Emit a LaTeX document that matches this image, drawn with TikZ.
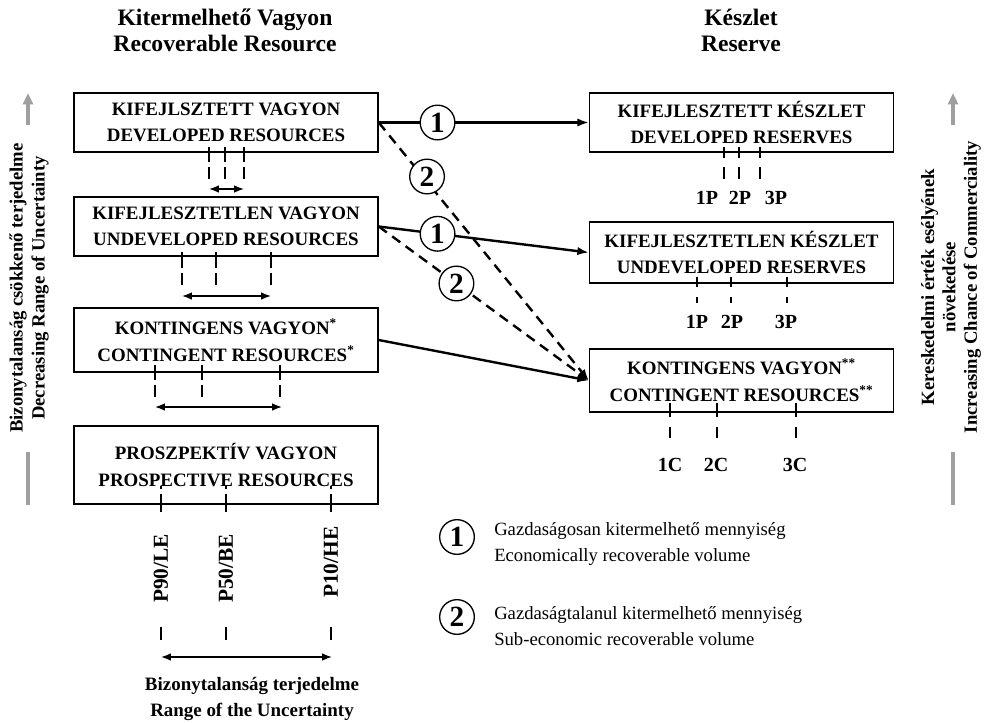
\documentclass[tikz,border=0pt]{standalone}
\usepackage{fontspec}
\setmainfont{Liberation Serif}
\usetikzlibrary{arrows.meta}

\begin{document}
\begin{tikzpicture}[x=0.75pt, y=-0.75pt, every node/.style={font=\bfseries}, >={Latex[length=3mm,width=2.2mm]},
	resbox/.style={draw, line width=1.1pt, minimum width=228pt, align=center, font=\fontsize{14.2}{20}\selectfont\bfseries},
	tickmark/.style={line width=2.2pt},
	spanarrow/.style={<->, line width=1.1pt, >={Latex[length=2.6mm,width=2mm]}},
	flow/.style={->, line width=1.8pt},
	subflow/.style={->, line width=1.8pt, dash pattern=on 7.5pt off 5pt},
	num/.style={circle, draw, solid, fill=white, line width=1pt, minimum size=26pt, inner sep=0pt, font=\fontsize{22}{22}\selectfont\bfseries},
	lbl/.style={font=\fontsize{15}{15}\selectfont\bfseries, inner sep=0pt},
	sideaxis/.style={line width=2.4pt, gray!75}]
	\useasboundingbox (0,0) rectangle (986,722);
	% headers
	\node[align=center, font=\fontsize{17.7}{19.5}\selectfont\bfseries] (hres) at (225,30) {Kitermelhető Vagyon\\Recoverable Resource};
	\node[align=center, font=\fontsize{17.7}{19.5}\selectfont\bfseries] (hrsv) at (741,30) {Készlet\\Reserve};
	% resources
	\node[resbox, minimum height=44.25pt] (dres) at (226,122.5) {KIFEJLSZTETT VAGYON\\DEVELOPED RESOURCES};
	\node[resbox, minimum height=44.25pt] (ures) at (226,226.5) {KIFEJLESZTETLEN VAGYON\\UNDEVELOPED RESOURCES};
	\node[resbox, minimum height=48pt] (cres) at (226,340) {KONTINGENS VAGYON\textsuperscript{*}\\CONTINGENT RESOURCES\textsuperscript{*}};
	\node[resbox, minimum height=58.5pt] (pres) at (226,465) {PROSZPEKTÍV VAGYON\\PROSPECTIVE RESOURCES};
	% reserves
	\node[resbox, minimum height=44.25pt] (drsv) at (741.5,122.5) {KIFEJLESZTETT KÉSZLET\\DEVELOPED RESERVES};
	\node[resbox, minimum height=45.75pt] (ursv) at (741.5,252.5) {KIFEJLESZTETLEN KÉSZLET\\UNDEVELOPED RESERVES};
	\node[resbox, minimum height=47.25pt] (crsv) at (741.5,380.5) {KONTINGENS VAGYON\textsuperscript{**}\\CONTINGENT RESOURCES\textsuperscript{**}};
	% ticks and ranges
	\foreach \x in {209,225,244} {\draw[tickmark] (\x,147) -- (\x,162) (\x,167) -- (\x,179);}
	\draw[spanarrow] (209,189) -- (244,189);
	\foreach \x in {182,216,271} {\draw[tickmark] (\x,252) -- (\x,268) (\x,273) -- (\x,285);}
	\draw[spanarrow] (182,296) -- (271,296);
	\foreach \x in {155,202,280} {\draw[tickmark] (\x,365) -- (\x,380) (\x,385) -- (\x,397);}
	\draw[spanarrow] (155,407) -- (282,407);
	\foreach \x in {161,226,331} {\draw[tickmark] (\x,486) -- (\x,489) (\x,494) -- (\x,512) (\x,627) -- (\x,640);}
	\draw[spanarrow] (161,657) -- (332,657);
	\foreach \x in {724,739,760} {\draw[tickmark] (\x,147) -- (\x,158) (\x,167) -- (\x,179);}
	\foreach \x in {697,731,787} {\draw[tickmark] (\x,277) -- (\x,287) (\x,297) -- (\x,303);}
	\foreach \x in {670,717,796} {\draw[tickmark] (\x,403) -- (\x,417) (\x,427) -- (\x,438);}
	% labels
	\node[lbl] (p1a) at (707,198) {1P};
	\node[lbl] (p2a) at (740,198) {2P};
	\node[lbl] (p3a) at (776,198) {3P};
	\node[lbl] (p1b) at (697,322) {1P};
	\node[lbl] (p2b) at (732,322) {2P};
	\node[lbl] (p3b) at (786,322) {3P};
	\node[lbl] (c1) at (670,465) {1C};
	\node[lbl] (c2) at (716,465) {2C};
	\node[lbl] (c3) at (795,465) {3C};
	\node[lbl, rotate=90, anchor=west, font=\fontsize{16}{16}\selectfont\bfseries] (p90) at (161,603) {P90/LE};
	\node[lbl, rotate=90, anchor=west, font=\fontsize{16}{16}\selectfont\bfseries] (p50) at (226,603) {P50/BE};
	\node[lbl, rotate=90, anchor=west, font=\fontsize{16}{16}\selectfont\bfseries] (p10) at (331,598) {P10/HE};
	\node[align=center, font=\fontsize{14.2}{19.5}\selectfont\bfseries] (urng) at (252,699) {Bizonytalanság terjedelme\\Range of the Uncertainty};
	% flows
	\draw[subflow] (dres.east) -- node[num, pos=0.23, yshift=4pt] (n2a) {2} (crsv.west);
	\draw[subflow] (ures.east) -- node[num, pos=0.37] (n2b) {2} (crsv.west);
	\draw[flow] (dres.east) -- node[num, pos=0.28] (n1a) {1} (drsv.west);
	\draw[flow] (ures.east) -- node[num, pos=0.28] (n1b) {1} (ursv.west);
	\draw[flow] (cres.east) -- (crsv.west);
	% side axes
	\draw[sideaxis, -{Triangle[length=3mm,width=2.6mm]}] (28,125) -- (28,93);
	\draw[sideaxis] (28,452) -- (28,505);
	\draw[sideaxis, -{Triangle[length=3mm,width=2.6mm]}] (953,125) -- (953,93);
	\draw[sideaxis] (953,452) -- (953,505);
	\node[rotate=90, align=center, font=\fontsize{14}{16.5}\selectfont\bfseries] (lax) at (29,288) {Bizonytalanság csökkenő terjedelme\\Decreasing Range of Uncertainty};
	\node[rotate=90, align=center, font=\fontsize{14}{16}\selectfont\bfseries] (rax) at (951,287) {Kereskedelmi érték esélyének\\növekedése\\Increasing Chance of Commerciality};
	% legend
	\node[num] (k1) at (457,537) {1};
	\node[anchor=west, align=left, inner sep=0pt, font=\fontsize{14}{20}\selectfont] (t1) at (494,544) {Gazdaságosan kitermelhető mennyiség\\Economically recoverable volume};
	\node[num] (k2) at (457,617) {2};
	\node[anchor=west, align=left, inner sep=0pt, font=\fontsize{14}{20}\selectfont] (t2) at (494,626) {Gazdaságtalanul kitermelhető mennyiség\\Sub-economic recoverable volume};
\end{tikzpicture}
\end{document}
